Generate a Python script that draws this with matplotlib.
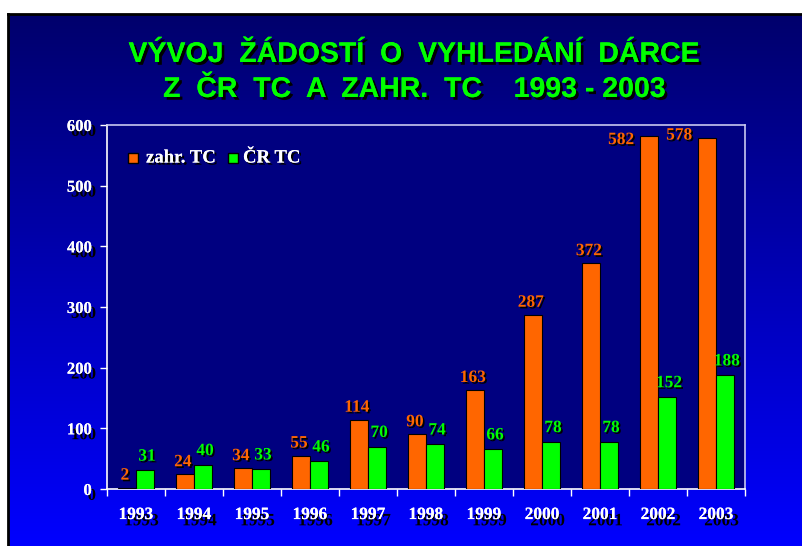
import numpy as np
import matplotlib
matplotlib.use("Agg")
import matplotlib.pyplot as plt
import matplotlib.patheffects as pe
from matplotlib.lines import Line2D

years = ["1993", "1994", "1995", "1996", "1997", "1998", "1999", "2000", "2001", "2002", "2003"]
zahr_tc = [2, 24, 34, 55, 114, 90, 163, 287, 372, 582, 578]
cr_tc = [31, 40, 33, 46, 70, 74, 66, 78, 78, 152, 188]
series_names = ["zahr. TC", "ČR TC"]
title_lines = ["VÝVOJ  ŽÁDOSTÍ  O  VYHLEDÁNÍ  DÁRCE", "Z  ČR  TC  A  ZAHR.  TC    1993 - 2003"]
yticks = [0, 100, 200, 300, 400, 500, 600]

ORANGE = "#FF6600"
GREEN = "#00FF00"
W, H = 803, 546

fig = plt.figure(figsize=(W / 100, H / 100), dpi=100, facecolor="white")

# slide background with vertical gradient
bg = fig.add_axes([8 / W, 0, (W - 8) / W, (H - 14) / H])
grad = np.linspace(0, 1, 256).reshape(-1, 1)
top = np.array([0x00, 0x00, 0x6c]) / 255
bot = np.array([0x00, 0x00, 0xff]) / 255
img = top[None, None, :] * (1 - grad[:, :, None]) + bot[None, None, :] * grad[:, :, None]
bg.imshow(img, aspect="auto", extent=[0, 1, 0, 1], origin="upper")
bg.set_xlim(0, 1)
bg.set_ylim(0, 1)
bg.set_xticks([])
bg.set_yticks([])
for s in ["right", "bottom"]:
    bg.spines[s].set_visible(False)
for s in ["left", "top"]:
    bg.spines[s].set_color("black")
    bg.spines[s].set_linewidth(2)

# plot area
L, R, T, B = 107, 745, 125, 489
ax = fig.add_axes([L / W, 1 - B / H, (R - L) / W, (B - T) / H])
ax.set_facecolor("#000080")

n = len(years)
x = np.arange(n)
bw = 0.31
ax.bar(x - bw / 2, zahr_tc, width=bw, color=ORANGE, edgecolor="black", linewidth=0.8, zorder=3)
ax.bar(x + bw / 2, cr_tc, width=bw, color=GREEN, edgecolor="black", linewidth=0.8, zorder=3)
ax.set_xlim(-0.5, n - 0.5)
ax.set_ylim(0, 600)

shadow_small = [pe.withSimplePatchShadow(offset=(1.2, -1.2), shadow_rgbFace="black", alpha=1.0)]
lab_font = dict(family="Liberation Serif", fontweight="bold", fontsize=12.5)

for i, v in enumerate(zahr_tc):
    if v > 580:
        dx, dy, va = -20, -3, "center"
    elif v > 550:
        dx, dy, va = -20, 2, "center"
    else:
        dx, dy, va = -1.5, 3, "bottom"
    ax.annotate(str(v), (x[i] - bw / 2, v), xytext=(dx, dy), textcoords="offset points",
                ha="center", va=va, color=ORANGE, path_effects=shadow_small, zorder=5, **lab_font)
for i, v in enumerate(cr_tc):
    ax.annotate(str(v), (x[i] + bw / 2, v), xytext=(1.5, 4), textcoords="offset points",
                ha="center", va="bottom", color=GREEN, path_effects=shadow_small, zorder=5, **lab_font)

# axes styling
for s in ["left", "bottom"]:
    ax.spines[s].set_color("white")
    ax.spines[s].set_linewidth(1.2)
for s in ["top", "right"]:
    ax.spines[s].set_color("#c8c8f0")
    ax.spines[s].set_linewidth(1.2)

ax.set_yticks(yticks)
ax.set_yticklabels([str(t) for t in yticks])
ax.tick_params(axis="y", direction="out", length=5, width=1, color="white", pad=6,
               labelcolor="white", labelsize=12)
ax.set_xticks(np.arange(n + 1) - 0.5)
ax.set_xticklabels([])
ax.tick_params(axis="x", which="major", direction="out", length=5, width=1, color="white")
ax.set_xticks(x, minor=True)
ax.set_xticklabels(years, minor=True)
ax.tick_params(axis="x", which="minor", length=0, pad=13, labelcolor="white", labelsize=12.5)

shadow_y = [pe.withSimplePatchShadow(offset=(3, -3.5), shadow_rgbFace="black", alpha=1.0), pe.Normal()]
shadow_x = [pe.withSimplePatchShadow(offset=(4, -4.5), shadow_rgbFace="black", alpha=1.0), pe.Normal()]
for lbl in ax.get_yticklabels():
    lbl.set_fontfamily("Liberation Serif")
    lbl.set_fontweight("bold")
    lbl.set_path_effects(shadow_y)
for lbl in ax.get_xticklabels(minor=True):
    lbl.set_fontfamily("Liberation Serif")
    lbl.set_fontweight("bold")
    lbl.set_path_effects(shadow_x)

# legend (manual)
leg_y = 1 - (158 - T) / (B - T)
leg_items = [(133, ORANGE, series_names[0], 146), (233, GREEN, series_names[1], 243)]
for px, col, name, tx in leg_items:
    ax.add_line(Line2D([(px - L) / (R - L)], [leg_y], transform=ax.transAxes, marker="s",
                       markersize=7, markerfacecolor=col, markeredgecolor="black",
                       markeredgewidth=1, linestyle="none", zorder=6,
                       path_effects=[pe.withSimplePatchShadow(offset=(1, -1), shadow_rgbFace="black", alpha=1.0)]))
    ax.text((tx - L) / (R - L), leg_y, name, transform=ax.transAxes, ha="left", va="center",
            color="white", family="Liberation Serif", fontweight="bold", fontsize=13.5,
            path_effects=[pe.withSimplePatchShadow(offset=(1.5, -1.5), shadow_rgbFace="black", alpha=1.0), pe.Normal()],
            zorder=6)

# title
title_shadow = [pe.withSimplePatchShadow(offset=(2, -2), shadow_rgbFace="black", alpha=1.0), pe.Normal()]
for line, yc in zip(title_lines, [55, 90]):
    fig.text(414 / W, 1 - yc / H, line, ha="center", va="center", color=GREEN,
             family="Liberation Sans", fontweight="bold", fontsize=20.5, path_effects=title_shadow)

fig.savefig("out.png", dpi=100, facecolor="white")
